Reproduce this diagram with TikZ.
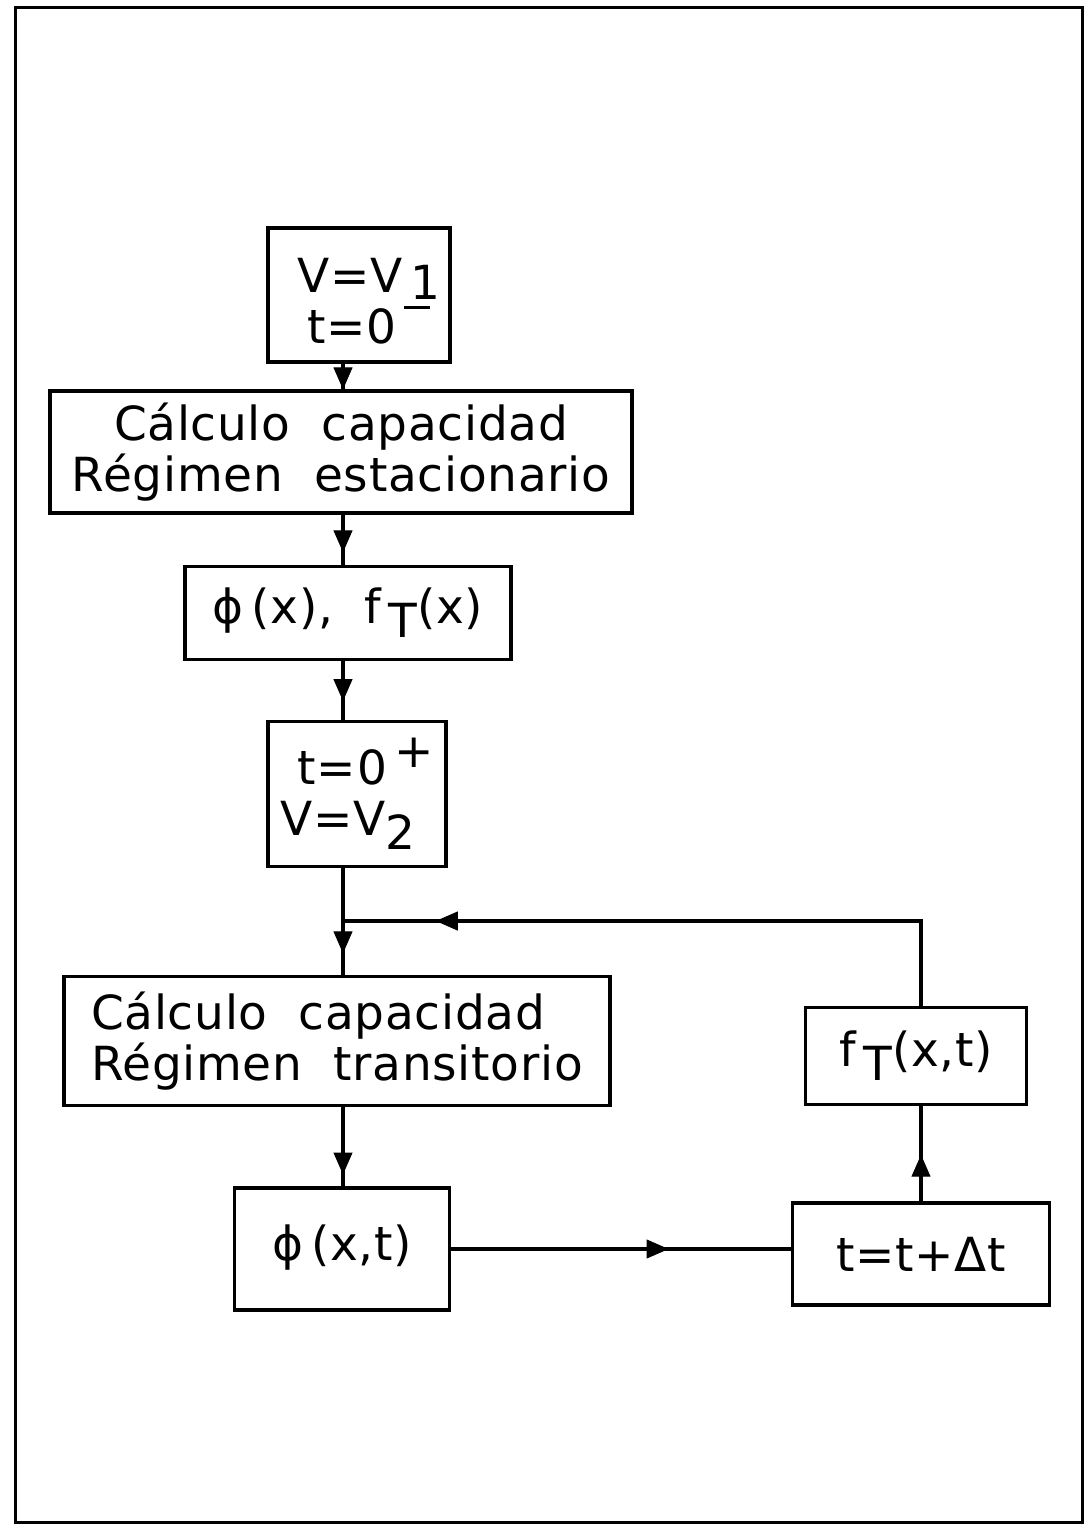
\documentclass[tikz,border=0pt]{standalone}
\usepackage{fontspec}
\setmainfont{DejaVu Sans}[LetterSpace=1.5]
\usetikzlibrary{arrows.meta,decorations.markings,calc}

\begin{document}
\begin{tikzpicture}[x=1pt,y=-1pt,line width=3.2pt,
  box/.style={draw,rectangle,inner sep=0pt,align=center,
    font=\fontsize{47}{51}\selectfont},
  flow/.style={postaction={decorate},decoration={markings,
    mark=at position #1 with {\arrow[line width=1pt]{Triangle[length=22pt,width=19pt]}}}},
  wire/.style={line width=3.2pt}]
\useasboundingbox (0,0) rectangle (1084,1525);
% outer frame
\draw[line width=3pt] (15,8) rectangle (1082,1522);

% blocks of the flow chart
\node[box,minimum width=182pt,minimum height=134pt] (b1) at (359,295)
  {\hspace*{20pt}\rule{0pt}{46pt}V=V\,\raisebox{-7pt}{1}\\
   \hspace*{20pt}t=0\,\raisebox{34pt}{\rule{26pt}{3.5pt}}};
\node[box,minimum width=582pt,minimum height=122pt] (b2) at (341,452)
  {Cálculo\ \ capacidad\\Régimen\ \ estacionario};
\node[box,minimum width=326pt,minimum height=93pt] (b3) at (348,613)
  {ϕ\,(x),\ \ f\,\raisebox{-14pt}{T}(x)};
\node[box,minimum width=178pt,minimum height=145pt] (b4) at (357,794)
  {\hspace*{18pt}t=0\,\raisebox{17pt}{+}\\V=V\raisebox{-14pt}{2}\hspace*{18pt}};
\node[box,align=left,minimum width=546pt,minimum height=129pt] (b5) at (337,1041)
  {Cálculo\ \ capacidad\\Régimen\ \ transitorio};
\node[box,minimum width=215pt,minimum height=122pt] (b6) at (342,1249)
  {ϕ\,(x,t)\rule[-12pt]{0pt}{1pt}};
\node[box,minimum width=257pt,minimum height=102pt] (b7) at (921,1254)
  {t=t+Δt};
\node[box,minimum width=221pt,minimum height=97pt] (b8) at (916,1056)
  {f\,\raisebox{-14pt}{T}(x,t)};

% junction of the feedback loop
\coordinate (j) at (343,921);

% connectors
\draw[wire,flow=1] (b1.south -| j) -- (b2.north -| j);
\draw[wire,flow=0.75] (b2.south -| j) -- (b3.north -| j);
\draw[wire,flow=0.68] (b3.south -| j) -- (b4.north -| j);
\draw[wire] (b4.south -| j) -- (j);
\draw[wire,flow=0.6] (j) -- (b5.north -| j);
\draw[wire,flow=0.86] (b8.north -| b7) |- (j);
\draw[wire,flow=0.85] (b5.south -| j) -- (b6.north -| j);
\draw[wire,flow=0.64] (b6.east) -- (b6.east -| b7.west);
\draw[wire,flow=0.49] (b7.north) -- (b7.north |- b8.south);
\end{tikzpicture}
\end{document}
